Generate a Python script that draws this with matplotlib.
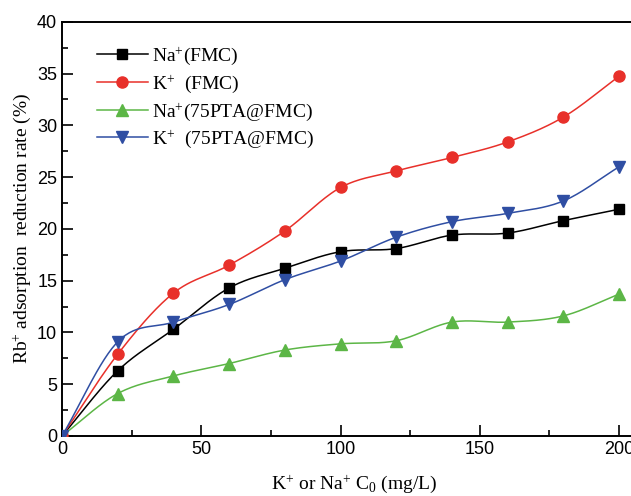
import numpy as np
import matplotlib
matplotlib.use('Agg')
import matplotlib.pyplot as plt
from matplotlib.ticker import MultipleLocator

plt.rcParams['mathtext.fontset'] = 'custom'
plt.rcParams['mathtext.rm'] = 'Liberation Serif'
plt.rcParams['mathtext.it'] = 'Liberation Serif'
plt.rcParams['mathtext.default'] = 'rm'

conc = [0, 20, 40, 60, 80, 100, 120, 140, 160, 180, 200]
na_fmc = [0, 6.3, 10.3, 14.3, 16.2, 17.8, 18.1, 19.4, 19.6, 20.8, 21.9]
k_fmc = [0, 7.9, 13.8, 16.5, 19.8, 24.0, 25.6, 26.9, 28.4, 30.8, 34.75]
na_pta = [0, 4.1, 5.8, 7.0, 8.3, 8.9, 9.2, 11.0, 11.0, 11.6, 13.7]
k_pta = [0, 9.1, 11.0, 12.7, 15.1, 16.9, 19.2, 20.7, 21.5, 22.7, 26.0]

labels = ['Na$^{+}$(FMC)', 'K$^{+}$  (FMC)', 'Na$^{+}$(75PTA@FMC)', 'K$^{+}$  (75PTA@FMC)']
colors = ['#000000', '#e8302a', '#5cb646', '#2f4ea3']
markers = ['s', 'o', '^', 'v']
msizes = [7, 8, 8, 8]


def smooth(x, y, n=30):
    # cubic hermite through the points, catmull-rom style tangents
    x = np.asarray(x, float)
    y = np.asarray(y, float)
    m = len(x)
    t = np.zeros(m)
    t[0] = (y[1] - y[0]) / (x[1] - x[0])
    t[-1] = (y[-1] - y[-2]) / (x[-1] - x[-2])
    for i in range(1, m - 1):
        t[i] = (y[i + 1] - y[i - 1]) / (x[i + 1] - x[i - 1])
    xs_all, ys_all = [], []
    for i in range(m - 1):
        h = x[i + 1] - x[i]
        s = np.linspace(0, 1, n)
        h00 = 2 * s**3 - 3 * s**2 + 1
        h10 = s**3 - 2 * s**2 + s
        h01 = -2 * s**3 + 3 * s**2
        h11 = s**3 - s**2
        xs_all.append(x[i] + s * h)
        ys_all.append(h00 * y[i] + h10 * h * t[i] + h01 * y[i + 1] + h11 * h * t[i + 1])
    return np.concatenate(xs_all), np.concatenate(ys_all)


fig = plt.figure(figsize=(6.31, 4.96), dpi=100)
ax = fig.add_axes([0.0983, 0.121, 0.927, 0.835])

for ys, lab, col, mk, ms in zip([na_fmc, k_fmc, na_pta, k_pta], labels, colors, markers, msizes):
    sx, sy = smooth(conc, ys)
    ax.plot(sx, sy, color=col, lw=1.1, zorder=3)
    ax.plot(conc, ys, linestyle='none', marker=mk, ms=ms, color=col, zorder=4)
    ax.plot([], [], color=col, lw=1.1, marker=mk, ms=ms, label=lab)

ax.set_xlim(0, 210)
ax.set_ylim(0, 40)
ax.xaxis.set_major_locator(MultipleLocator(50))
ax.xaxis.set_minor_locator(MultipleLocator(25))
ax.yaxis.set_major_locator(MultipleLocator(5))
ax.yaxis.set_minor_locator(MultipleLocator(2.5))
ax.tick_params(which='both', direction='in', top=False, right=False,
               labelsize=13, width=1.2)
ax.tick_params(which='major', length=8)
ax.tick_params(which='minor', length=4)
for t in ax.get_xticklabels() + ax.get_yticklabels():
    t.set_family('Liberation Sans')
for s in ax.spines.values():
    s.set_linewidth(1.4)

ax.set_xlabel('K$^{+}$ or Na$^{+}$ C$_{0}$ (mg/L)', fontsize=14,
              family='Liberation Serif', labelpad=11)
ax.set_ylabel('Rb$^{+}$ adsorption  reduction rate (%)', fontsize=14,
              family='Liberation Serif', labelpad=3)

leg = ax.legend(loc='upper left', bbox_to_anchor=(0.03, 0.985), frameon=False,
                prop={'family': 'Liberation Serif', 'size': 14},
                handlelength=2.6, handletextpad=0.25, labelspacing=0.3)

fig.savefig('out.png', dpi=100)
